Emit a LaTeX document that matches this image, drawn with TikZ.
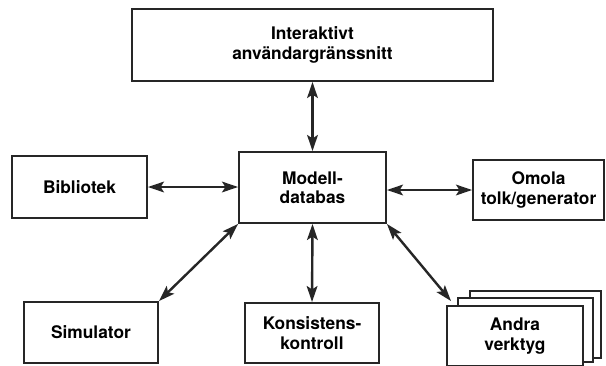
\documentclass[tikz,border=0pt]{standalone}
\usepackage{fontspec}
\setmainfont{TeX Gyre Heros}
\usetikzlibrary{arrows.meta}
\begin{document}
\begin{tikzpicture}[x=0.75pt,y=-0.75pt,
  box/.style={draw=black!85,line width=1.4pt,fill=white,align=center,inner sep=0pt,
    font=\fontsize{13}{14.5}\selectfont\bfseries},
  link/.style={line width=1.8pt,draw=black!85,{Stealth[length=12pt,width=8pt,inset=2.5pt]}-{Stealth[length=12pt,width=8pt,inset=2.5pt]}}]
\useasboundingbox[fill=white] (0,0) rectangle (606,365);
\clip (0,0) rectangle (606,365);
\node[box,minimum width=270.75pt,minimum height=54pt] (ui) at (312.5,45) {Interaktivt\\användargränssnitt};
\node[box,minimum width=110.25pt,minimum height=53.25pt] (db) at (312.5,187.5) {Modell-\\databas};
\node[box,minimum width=101.25pt,minimum height=46.5pt] (bib) at (79.5,187) {Bibliotek};
\node[box,minimum width=98.25pt,minimum height=45pt] (omo) at (538.5,190) {Omola\\tolk/generator};
\node[box,minimum width=100.5pt,minimum height=45.75pt] (sim) at (91,332.5) {Simulator};
\node[box,minimum width=100.5pt,minimum height=45pt] (kon) at (312,333) {Konsistens-\\kontroll};
\node[box,minimum width=98.25pt,minimum height=50.25pt] (back) at (535.5,324.5) {};
\node[box,minimum width=101.25pt,minimum height=48pt] (mid) at (525.5,330) {};
\node[box,minimum width=102pt,minimum height=45pt] (andra) at (515,336) {Andra\\verktyg};
\coordinate (atip) at (451,301);
\draw[link] (ui.south) -- (db.north);
\draw[link] (bib.east) -- (bib.east -| db.west);
\draw[link] (omo.west) -- (omo.west -| db.east);
\draw[link] (db.south) -- (kon.north);
\draw[link] (db.south west) -- (sim.north east);
\draw[link] (db.south east) -- (atip);
\end{tikzpicture}
\end{document}
